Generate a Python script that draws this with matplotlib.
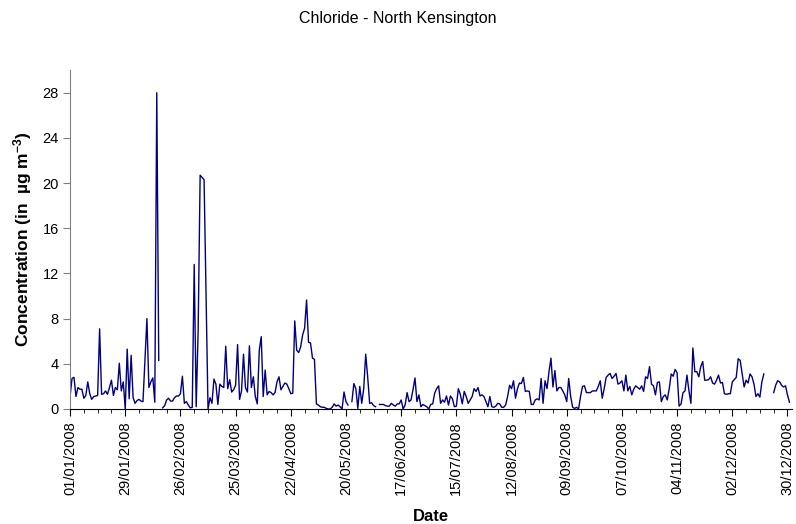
import numpy as np
import pandas as pd
import matplotlib
matplotlib.use("Agg")
import matplotlib.pyplot as plt
import matplotlib.dates as mdates
from matplotlib.ticker import FixedLocator, NullFormatter

plt.rcParams["font.family"] = ["Liberation Sans", "DejaVu Sans"]
plt.rcParams["mathtext.fontset"] = "custom"
plt.rcParams["mathtext.rm"] = "Liberation Sans"
plt.rcParams["mathtext.bf"] = "Liberation Sans:bold"
plt.rcParams["mathtext.default"] = "bf"

# Daily chloride concentration (µg m-3), North Kensington, 2008; None = no data
jan = [1.1, 2.7, 2.8, 1.1, 1.9, 1.75, 1.75, 0.95, 1.2, 2.4, 1.35, 0.85, 1.1, 1.15, 1.2,
       7.1, 1.3, 1.35, 1.6, 1.3, 1.9, 2.55, 1.2, 1.9, 1.7, 4.05, 1.6, 2.4, 0.0, 5.3, 0.9]
feb = [4.75, 1.0, 0.5, 0.75, 0.85, 0.7, 0.65, 4.3, 8.0, 1.9, 2.4, 2.75, 0.6, 28.0, 4.3,
       None, 0.1, 0.3, 0.8, 0.95, 0.7, 0.7, 1.0, 1.15, 1.15, 1.35, 2.9, 0.5, 0.65]
mar = [0.35, 0.1, 0.15, 12.8, 0.2, 7.0, 20.7, 20.5, 20.3, 10.0, 0.0, 1.0, 0.5, 2.65, 2.2,
       0.4, 2.2, 2.0, 1.9, 5.55, 1.8, 2.6, 1.5, 1.7, 2.1, 5.7, 0.85, 1.6, 4.85, 1.9, 1.5]
apr = [5.6, 1.9, 2.85, 1.1, 0.45, 5.2, 6.4, 1.1, 3.45, 1.25, 1.55, 1.45, 1.25, 1.45, 2.4,
       2.85, 1.7, 2.0, 2.3, 2.2, 1.8, 1.35, 1.4, 7.8, 5.2, 5.0, 5.5, 6.55, 7.15, 9.65]
may = [5.9, 5.85, 4.5, 4.4, 0.45, 0.35, 0.2, 0.15, 0.15, 0.05, 0.0, 0.0, 0.15, 0.45, 0.25,
       0.35, 0.2, 0.0, 1.5, 0.65, 0.35, None, 0.65, 2.25, 1.8, 0.05, 2.0, 0.5, 1.8, 4.85, 2.85]
jun = [0.5, 0.55, 0.3, 0.2, None, 0.4, 0.4, 0.4, 0.3, 0.25, 0.25, 0.5, 0.35, 0.25, 0.45,
       0.45, 0.8, 0.0, 0.35, 1.45, 0.65, 0.8, 1.7, 2.75, 0.65, 1.25, 0.2, 0.4, 0.3, 0.2]
jul = [0.0, 0.4, 0.45, 1.4, 1.8, 2.05, 0.5, 0.8, 0.6, 1.15, 0.35, 1.15, 0.9, 0.2, 0.25,
       1.8, 1.3, 0.45, 1.55, 1.1, 0.5, 0.8, 1.1, 1.8, 1.55, 1.9, 1.15, 1.25, 1.1, 0.65, 0.2]
aug = [1.1, 0.2, 0.15, 0.25, 0.5, 0.45, 0.15, 0.15, 0.35, 1.1, 2.1, 1.8, 2.5, 0.95, 1.8,
       2.3, 2.25, 2.8, 1.55, 1.6, 1.55, 0.4, 0.4, 0.8, 0.9, 0.8, 2.7, 0.5, 2.5, 1.8, 3.3]
sep = [4.5, 1.95, 3.4, 1.6, 1.9, 1.9, 1.6, 1.25, 0.65, 2.7, 1.1, 0.15, 0.05, 0.15, 0.0,
       1.1, 2.0, 2.05, 1.45, 1.45, 1.45, 1.6, 1.6, 1.6, 2.0, 2.5, 0.95, 1.8, 2.8, 3.0]
oct_ = [3.15, 2.7, 2.9, 3.15, 2.2, 2.3, 2.5, 1.6, 3.0, 1.6, 2.0, 1.25, 1.75, 2.05, 1.9,
        1.75, 2.05, 1.55, 2.85, 2.7, 3.75, 2.2, 2.05, 1.25, 2.35, 2.4, 0.65, 1.1, 1.25, 0.8, 1.8]
nov = [3.1, 2.9, 3.5, 3.2, 0.25, 0.45, 1.45, 1.6, 3.0, 1.6, 0.5, 5.4, 3.3, 3.3, 2.85,
       3.75, 4.2, 2.55, 2.55, 2.6, 2.85, 2.3, 2.2, 2.55, 3.0, 2.3, 2.35, 1.35, 1.3, 1.35]
dec = [1.35, 2.4, 2.6, 2.8, 4.45, 4.3, 3.15, 1.95, 2.55, 2.3, 3.1, 2.85, 2.2, 1.1, 1.35,
       1.05, 2.4, 3.1, None, None, None, None, 1.45, 2.1, 2.5, 2.4, 2.1, 1.95, 2.05, 1.25, 0.6]

x_tick_labels = ["01/01/2008", "29/01/2008", "26/02/2008", "25/03/2008", "22/04/2008",
                 "20/05/2008", "17/06/2008", "15/07/2008", "12/08/2008", "09/09/2008",
                 "07/10/2008", "04/11/2008", "02/12/2008", "30/12/2008"]
y_ticks = [0, 4, 8, 12, 16, 20, 24, 28]

values = np.array([np.nan if v is None else v
                   for m in (jan, feb, mar, apr, may, jun, jul, aug, sep, oct_, nov, dec)
                   for v in m], dtype=float)
dates = pd.date_range("2008-01-01", periods=len(values), freq="D")

fig = plt.figure(figsize=(7.96, 5.24), dpi=100)
ax = fig.add_axes([0.088, 0.2195, 0.907, 0.6466])

ax.plot(dates, values, color="#000080", linewidth=1.0)

major = mdates.date2num(pd.to_datetime(x_tick_labels, format="%d/%m/%Y"))
minor = mdates.date2num(pd.date_range("2008-01-01", "2009-01-01", freq="7D"))
ax.xaxis.set_major_locator(FixedLocator(major))
ax.xaxis.set_minor_locator(FixedLocator(minor))
ax.set_xticklabels(x_tick_labels, rotation=90, fontsize=10.5)
ax.xaxis.set_minor_formatter(NullFormatter())
ax.set_xlim(mdates.date2num(pd.Timestamp("2008-01-01")),
            mdates.date2num(pd.Timestamp("2009-01-01")) + 0.3)

ax.set_ylim(0, 30)
ax.set_yticks(y_ticks)
ax.set_yticklabels([str(t) for t in y_ticks], fontsize=10.5)

for side in ("top", "right"):
    ax.spines[side].set_visible(False)
ax.spines["left"].set_color("#808080")
ax.spines["bottom"].set_color("black")
ax.tick_params(axis="y", direction="out", length=5, color="#808080", pad=3)
ax.tick_params(axis="x", which="major", direction="out", length=5, color="black", pad=4)
ax.tick_params(axis="x", which="minor", direction="out", length=3, color="black")

ax.set_xlabel("Date", fontsize=12, fontweight="bold", labelpad=10)
ax.set_ylabel("Concentration (in  µg m$^{-3}$)", fontsize=12.5, fontweight="bold", labelpad=6)

fig.text(0.5, 0.965, "Chloride - North Kensington", ha="center", va="center", fontsize=11.5)

fig.savefig("out.png", dpi=100)
